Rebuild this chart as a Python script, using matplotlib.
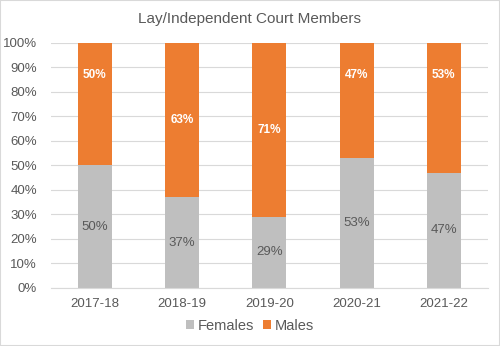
import matplotlib.pyplot as plt
import numpy as np

plt.rcParams['font.family'] = ['Liberation Sans', 'DejaVu Sans']

years = ["2017-18", "2018-19", "2019-20", "2020-21", "2021-22"]
females = [50, 37, 29, 53, 47]
males = [50, 63, 71, 47, 53]
# Excel labels for some male segments were dragged up near the top
male_label_y = [87, None, None, 87, 87]

grey = "#bfbfbf"
orange = "#ed7d31"
txt = "#595959"

fig = plt.figure(figsize=(5, 3.46), dpi=100)
ax = fig.add_axes([0.102, 0.168, 0.873, 0.708])

x = np.arange(len(years))
w = 0.39
ax.bar(x, females, w, color=grey, label="Females", zorder=2)
ax.bar(x, males, w, bottom=females, color=orange, label="Males", zorder=2)

for i in range(len(years)):
    ax.text(x[i], females[i] / 2, f"{females[i]}%", ha="center", va="center",
            color=txt, fontsize=9.5)
    my = male_label_y[i] if male_label_y[i] is not None else females[i] + males[i] / 2
    ax.text(x[i], my, f"{males[i]}%", ha="center", va="center",
            color="white", fontsize=8.5, fontweight="bold")

ax.set_xlim(-0.5, len(years) - 0.5)
ax.set_ylim(0, 100)
ax.set_yticks(range(0, 101, 10))
ax.set_yticklabels([f"{v}%" for v in range(0, 101, 10)])
ax.set_xticks(x)
ax.set_xticklabels(years)
ax.tick_params(colors=txt, labelsize=9.5, length=0)
ax.tick_params(axis="y", pad=10)
ax.tick_params(axis="x", pad=7)
ax.grid(axis="y", color="#d9d9d9", linewidth=0.8, zorder=0)
for s in ["top", "right", "left"]:
    ax.spines[s].set_visible(False)
ax.spines["bottom"].set_color("#d9d9d9")

fig.text(0.5, 0.945, "Lay/Independent Court Members", ha="center", va="center",
         color=txt, fontsize=11)

fig.legend(loc="center", bbox_to_anchor=(0.5, 0.058), ncol=2, frameon=False,
           fontsize=10.5, labelcolor=txt, handlelength=0.55, handleheight=0.55,
           handletextpad=0.25, columnspacing=0.6)

fig.patches.append(plt.Rectangle((0, 0), 1, 1, transform=fig.transFigure,
                                 fill=False, edgecolor="#d9d9d9", linewidth=1.5))

fig.savefig("out.png", dpi=100)
